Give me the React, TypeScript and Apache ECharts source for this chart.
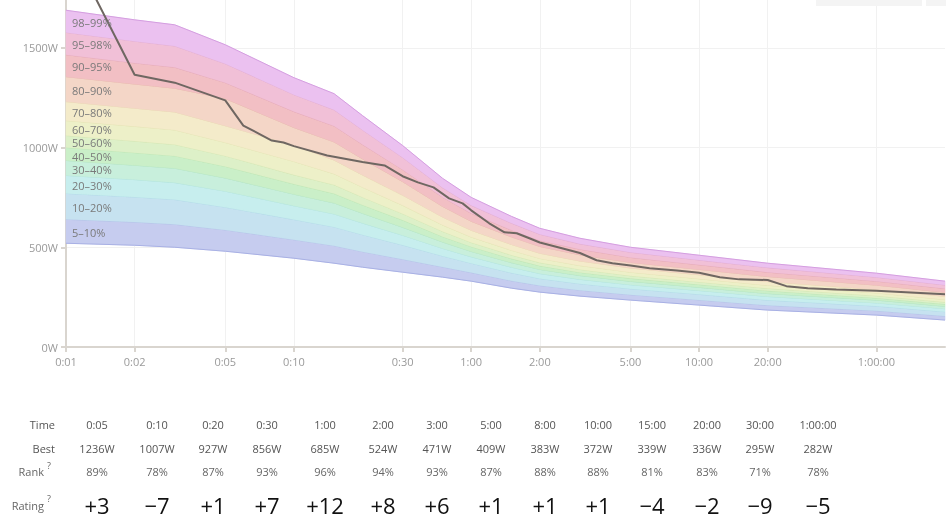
import React, { useEffect, useRef } from "react";
import * as echarts from "echarts";

// ---- percentile curves (seconds -> watts) ----
const times = [1, 2, 3, 5, 10, 15, 20, 30, 45, 60, 90, 120, 180, 300, 600, 1200, 3600, 7200];
const p5 = [520, 510, 500, 480, 445, 420, 400, 375, 350, 330, 295, 275, 255, 235, 210, 185, 160, 135];
const p10 = [640, 626, 615, 587, 538, 508, 478, 440, 401, 373, 332, 308, 285, 262, 236, 209, 182, 155];
const p20 = [770, 752, 739, 701, 639, 602, 563, 511, 456, 420, 372, 343, 317, 292, 264, 235, 205, 177];
const p30 = [860, 839, 824, 781, 708, 667, 621, 560, 494, 452, 400, 368, 339, 312, 283, 253, 221, 192];
const p40 = [935, 911, 896, 847, 766, 722, 670, 600, 526, 479, 423, 389, 358, 329, 299, 268, 235, 204];
const p50 = [1000, 974, 958, 905, 817, 769, 712, 636, 553, 503, 443, 407, 374, 344, 313, 282, 246, 215];
const p60 = [1060, 1032, 1015, 958, 863, 813, 751, 668, 579, 524, 461, 423, 389, 357, 326, 294, 257, 225];
const p70 = [1135, 1106, 1088, 1025, 930, 868, 801, 710, 611, 551, 485, 444, 408, 375, 342, 309, 271, 238];
const p80 = [1230, 1197, 1178, 1109, 1012, 937, 862, 761, 651, 585, 514, 470, 431, 396, 362, 328, 288, 254];
const p90 = [1355, 1318, 1297, 1245, 1100, 1028, 943, 829, 704, 630, 552, 504, 462, 424, 389, 353, 310, 274];
const p95 = [1465, 1424, 1402, 1325, 1180, 1108, 1015, 889, 750, 670, 586, 534, 490, 449, 412, 375, 330, 293];
const p98 = [1577, 1533, 1509, 1420, 1265, 1189, 1088, 950, 798, 710, 621, 565, 517, 475, 436, 398, 350, 311];
const p99 = [1688, 1640, 1615, 1515, 1350, 1270, 1160, 1010, 845, 750, 655, 595, 545, 500, 460, 420, 370, 330];
const percentileCurves = [p5, p10, p20, p30, p40, p50, p60, p70, p80, p90, p95, p98, p99];
const bandNames = ["5–10%", "10–20%", "20–30%", "30–40%", "40–50%", "50–60%", "60–70%", "70–80%", "80–90%", "90–95%", "95–98%", "98–99%"];

// ---- athlete best power curve ----
const bestTimes = [1, 2, 3, 5, 6, 8, 9, 10, 14, 20, 25, 30, 35, 41, 48, 55, 60, 72, 84, 95, 108, 120, 150, 180, 213, 250, 300, 364, 480, 600, 740, 900, 1200, 1450, 1800, 2400, 3600, 7200];
const bestWatts = [2040, 1365, 1325, 1236, 1110, 1035, 1025, 1007, 960, 927, 910, 856, 825, 800, 745, 720, 685, 620, 575, 570, 545, 524, 495, 471, 435, 420, 409, 395, 383, 372, 350, 339, 336, 305, 295, 288, 282, 265];

// ---- axis ticks ----
const xTickSeconds = [1, 2, 5, 10, 30, 60, 120, 300, 600, 1200, 3600];
const yMax = 2000;
const yStep = 500;

// ---- table ----
const tableTimes = ["0:05", "0:10", "0:20", "0:30", "1:00", "2:00", "3:00", "5:00", "8:00", "10:00", "15:00", "20:00", "30:00", "1:00:00"];
const tableBest = [1236, 1007, 927, 856, 685, 524, 471, 409, 383, 372, 339, 336, 295, 282];
const tableRank = [89, 78, 87, 93, 96, 94, 93, 87, 88, 88, 81, 83, 71, 78];
const tableRating = [3, -7, 1, 7, 12, 8, 6, 1, 1, 1, -4, -2, -9, -5];

// ---- styles / layout ----
const FONT = "'Open Sans', 'Noto Sans', sans-serif";
const bandFills = ["#c6ccef", "#c6e2f0", "#c7eeee", "#c8efdc", "#caefc8", "#ddf0c8", "#edf0c8", "#f4ebca", "#f4d6c7", "#f2bfc4", "#f1c0d7", "#ebc1f0"];
const bandLines = ["#a8b0e4", "#a6cfe4", "#a6dede", "#a6dfc2", "#aadfa8", "#c6e0a8", "#dcdfa8", "#e6d6aa", "#e4b8a4", "#dc9ca4", "#dca0be", "#d49ee0"];
const columnX = [97, 157, 213, 267, 325, 383, 437, 491, 545, 598, 652, 707, 760, 818];
const rowY = [484, 508, 531, 565];
const OFFSET = 60;
const LABEL_GAP = 13.5;

function fmtTime(s: number): string {
  const h = Math.floor(s / 3600);
  const m = Math.floor((s % 3600) / 60);
  const sec = Math.round(s % 60);
  const pad = (n: number) => String(n).padStart(2, "0");
  return h > 0 ? `${h}:${pad(m)}:${pad(sec)}` : `${m}:${pad(sec)}`;
}

function txt(text: string, x: number, y: number, opts: any = {}) {
  return {
    type: "text",
    x,
    y,
    z: 100,
    silent: true,
    style: {
      text,
      fill: opts.fill || "#606060",
      fontSize: opts.fontSize || 11,
      lineHeight: opts.lineHeight || undefined,
      fontFamily: FONT,
      align: opts.align || "center",
      textAlign: opts.align || "center",
      verticalAlign: "middle",
      textVerticalAlign: "middle",
    },
  };
}

export default function App() {
  const ref = useRef<HTMLDivElement>(null);
  useEffect(() => {
    const chart = echarts.init(ref.current as HTMLDivElement, null, { renderer: "svg" });
    const axisColor = "#d9d5cf";
    const bandSeries = {
      type: "custom",
      silent: true,
      z: 2,
      data: bandNames.map((_, k) => [times[0], percentileCurves[k][0]]),
      renderItem: (params: any, api: any) => {
        const k = params.dataIndex;
        const lower = percentileCurves[k];
        const upper = percentileCurves[k + 1];
        const top = times.map((t, i) => api.coord([t, upper[i]]));
        const bottom = times.map((t, i) => api.coord([t, lower[i]]));
        const children: any[] = [
          { type: "polygon", shape: { points: top.concat(bottom.slice().reverse()) }, style: { fill: bandFills[k], stroke: bandFills[k], lineWidth: 0.6 } },
          { type: "polyline", shape: { points: top }, style: { stroke: bandLines[k], fill: "none", lineWidth: 1 } },
        ];
        if (k === 0) {
          children.push({ type: "polyline", shape: { points: bottom }, style: { stroke: bandLines[0], fill: "none", lineWidth: 1 } });
        }
        return { type: "group", children };
      },
    };
    const option: any = {
      animation: false,
      grid: { left: 66, right: 7, top: 8, bottom: 179 },
      xAxis: {
        type: "log",
        logBase: 10,
        min: 1,
        max: 7200,
        axisLine: { lineStyle: { color: axisColor, width: 2 } },
        axisTick: { show: true, length: 5, customValues: xTickSeconds, lineStyle: { color: axisColor, width: 2 } },
        axisLabel: { customValues: xTickSeconds, formatter: (v: number) => fmtTime(v), color: "#9a9a9a", fontSize: 11, fontFamily: FONT, margin: 9 },
        splitLine: { show: true, lineStyle: { color: "#f1f1f1", width: 1 } },
        minorTick: { show: false },
        minorSplitLine: { show: false },
      },
      yAxis: {
        type: "value",
        min: 0,
        max: yMax,
        interval: yStep,
        axisLine: { show: true, lineStyle: { color: axisColor, width: 2 } },
        axisTick: { show: true, length: 5, lineStyle: { color: axisColor, width: 2 } },
        axisLabel: { formatter: (v: number) => `${v}W`, showMaxLabel: false, color: "#9a9a9a", fontSize: 11, fontFamily: FONT, margin: 8 },
        splitLine: { show: true, lineStyle: { color: "#f1f1f1", width: 1 } },
      },
      series: [
        bandSeries,
        {
          type: "line",
          symbol: "none",
          silent: true,
          z: 5,
          data: bestTimes.map((t, i) => [t, bestWatts[i]]),
          lineStyle: { color: "#6f6762", width: 2 },
        },
      ],
    };
    chart.setOption(option);

    const elements: any[] = [];
    // band labels positioned through the chart's scales (top to bottom, keep a minimal gap)
    let prevY = -Infinity;
    for (let k = bandNames.length - 1; k >= 0; k--) {
      const lo = percentileCurves[k][0];
      const hi = percentileCurves[k + 1][0];
      const pt = chart.convertToPixel({ gridIndex: 0 }, [times[0], (lo + hi) / 2]) as number[];
      const y = Math.max(pt[1] + 1, prevY + LABEL_GAP);
      prevY = y;
      elements.push(txt(bandNames[k], pt[0] + 6, y, { align: "left", fill: "#7a7a7a", lineHeight: 11 }));
    }
    // faint controls at top right
    elements.push({ type: "rect", z: 100, silent: true, shape: { x: 816, y: OFFSET - 10, width: 106, height: 16 }, style: { fill: "#f4f4f4" } });
    elements.push({ type: "rect", z: 100, silent: true, shape: { x: 926, y: OFFSET - 10, width: 20, height: 16 }, style: { fill: "#f4f4f4" } });
    // table
    elements.push(txt("Time", 55, rowY[0], { align: "right", fill: "#555" }));
    elements.push(txt("Best", 55, rowY[1], { align: "right", fill: "#555" }));
    elements.push(txt("Rank", 44, rowY[2], { align: "right", fill: "#666" }));
    elements.push(txt("?", 49, rowY[2] - 6, { fill: "#666", fontSize: 9 }));
    elements.push(txt("Rating", 44, rowY[3], { align: "right", fill: "#666" }));
    elements.push(txt("?", 49, rowY[3] - 7, { fill: "#666", fontSize: 9 }));
    tableTimes.forEach((t, i) => {
      const x = columnX[i];
      elements.push(txt(t, x, rowY[0], { fill: "#555" }));
      elements.push(txt(`${tableBest[i]}W`, x, rowY[1], { fill: "#555" }));
      elements.push(txt(`${tableRank[i]}%`, x, rowY[2], { fill: "#666" }));
      const r = tableRating[i];
      elements.push(txt(r > 0 ? `+${r}` : `−${Math.abs(r)}`, x, rowY[3], { fill: "#111", fontSize: 22 }));
    });
    chart.setOption({ graphic: { elements } });
    return () => chart.dispose();
  }, []);
  return <div ref={ref} style={{ position: "fixed", left: 0, top: -OFFSET, width: 952, height: 526 + OFFSET }} />;
}
